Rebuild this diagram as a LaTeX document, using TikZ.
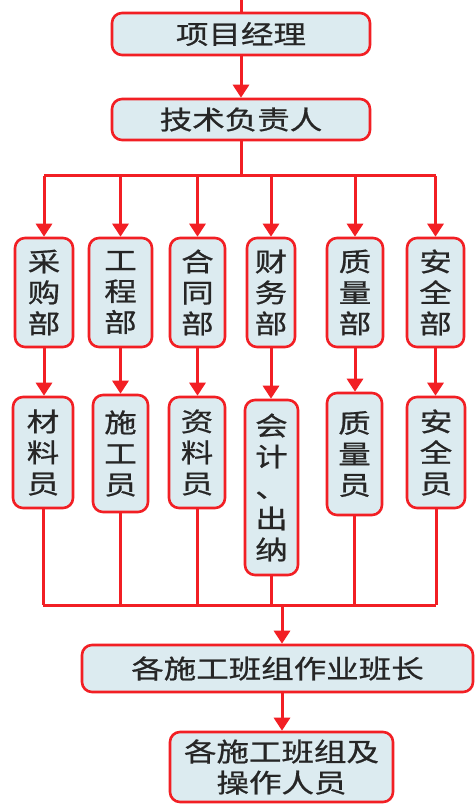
\documentclass[tikz,border=0pt]{standalone}
\usepackage{fontspec}
\newfontfamily\cjk[FakeStretch=1.25,FakeBold=0.8]{Noto Sans CJK SC}
\usetikzlibrary{arrows.meta}
\definecolor{boxfill}{HTML}{DCEBF0}
\definecolor{boxred}{HTML}{F21F24}
\definecolor{txt}{HTML}{262626}
\tikzset{
  box/.style={draw=boxred, line width=2.6pt, fill=boxfill, rounded corners=10pt,
    inner sep=0pt, align=center, text=txt, font={\cjk\fontsize{26}{31}\selectfont}},
  conn/.style={draw=boxred, line width=3pt},
  arr/.style={conn, -{Triangle[width=16pt,length=13pt]}}
}
\begin{document}
\begin{tikzpicture}[x=1pt,y=-1pt]
\useasboundingbox[fill=white] (0,0) rectangle (475,805);
% top level
\node[box, minimum width=258pt, minimum height=42pt] (pm) at (241,34) {项目经理};
\node[box, minimum width=258pt, minimum height=41pt] (tech) at (241,119.5) {技术负责人};
% departments
\node[box, minimum width=58pt, minimum height=109pt] (d1) at (44,292.5) {采\\购\\部};
\node[box, minimum width=63pt, minimum height=109pt] (d2) at (120.5,292.5) {工\\程\\部};
\node[box, minimum width=55pt, minimum height=109pt] (d3) at (197.5,292.5) {合\\同\\部};
\node[box, minimum width=48pt, minimum height=109pt] (d4) at (271,292.5) {财\\务\\部};
\node[box, minimum width=56pt, minimum height=109pt] (d5) at (355,292.5) {质\\量\\部};
\node[box, minimum width=57pt, minimum height=109pt] (d6) at (435.5,292.5) {安\\全\\部};
% staff
\node[box, minimum width=60pt, minimum height=111pt] (s1) at (43,452.5) {材\\料\\员};
\node[box, minimum width=55pt, minimum height=117pt] (s2) at (120.5,453.5) {施\\工\\员};
\node[box, minimum width=56pt, minimum height=111pt] (s3) at (197,452.5) {资\\料\\员};
\node[box, minimum width=53pt, minimum height=175pt] (s4) at (271.5,487.5) {会\\计\\、\\出\\纳};
\node[box, minimum width=55pt, minimum height=122pt] (s5) at (354.5,454) {质\\量\\员};
\node[box, minimum width=58pt, minimum height=111pt] (s6) at (436,452.5) {安\\全\\员};
% bottom
\node[box, minimum width=391pt, minimum height=47pt] (lead) at (277.5,668.5) {各施工班组作业班长};
\node[box, minimum width=223pt, minimum height=70pt] (crew) at (281.5,767) {各施工班组及\\操作人员};
% coordinates
\coordinate (topin) at (241,0);
\coordinate (busA) at (241,176);
\coordinate (busB) at (282,605);
% connectors
\draw[conn] (topin) -- (pm.north);
\draw[arr] (pm.south) -- (tech.north);
\draw[conn] (tech.south) -- (busA);
\draw[conn] (d1.north |- busA) -- (d6.north |- busA);
\foreach \d in {d1,d2,d3,d4,d5,d6}{
  \draw[arr] (\d.north |- busA) -- (\d.north);
}
\foreach \d/\s in {d1/s1,d2/s2,d3/s3,d4/s4,d5/s5,d6/s6}{
  \draw[arr] (\d.south) -- (\d.south |- \s.north);
}
\foreach \s in {s1,s2,s3,s4,s5,s6}{
  \draw[conn] (\s.south) -- (\s.south |- busB);
}
\draw[conn] (s1.south |- busB) -- (s6.south |- busB);
\draw[arr] (busB) -- (busB |- lead.north);
\draw[arr] (busB |- lead.south) -- (busB |- crew.north);
\end{tikzpicture}
\end{document}
